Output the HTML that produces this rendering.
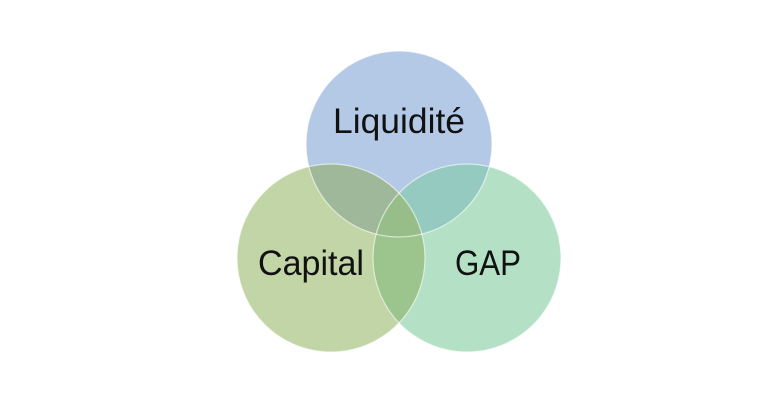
<!DOCTYPE html>
<html><head><style>body{margin:0;background:#fff}svg{display:block}</style></head><body>
<svg width="772" height="400" viewBox="0 0 772 400" xmlns="http://www.w3.org/2000/svg">
<defs>
<clipPath id="T"><circle cx="399" cy="144" r="93"/></clipPath>
<clipPath id="L"><circle cx="331" cy="258" r="94"/></clipPath>
<clipPath id="R"><circle cx="467" cy="258" r="94"/></clipPath>
</defs>
<rect width="772" height="400" fill="#fff"/>
<circle cx="399" cy="144" r="93" fill="#b4c9e6"/>
<circle cx="331" cy="258" r="94" fill="#c1d5a6"/>
<circle cx="467" cy="258" r="94" fill="#b4e1c6"/>
<g clip-path="url(#T)"><circle cx="331" cy="258" r="94" fill="#a0b89a"/><circle cx="467" cy="258" r="94" fill="#95cac0"/></g>
<g clip-path="url(#L)"><circle cx="467" cy="258" r="94" fill="#9cc48d"/></g>
<g clip-path="url(#T)"><g clip-path="url(#L)"><circle cx="467" cy="258" r="94" fill="#97be88"/></g></g>
<circle cx="399" cy="144" r="93" fill="none" stroke="#fff" stroke-opacity="0.6" stroke-width="1.2"/>
<circle cx="331" cy="258" r="94" fill="none" stroke="#fff" stroke-opacity="0.6" stroke-width="1.2"/>
<circle cx="467" cy="258" r="94" fill="none" stroke="#fff" stroke-opacity="0.6" stroke-width="1.2"/>
<g font-family="Liberation Sans, sans-serif" font-size="35" fill="#111" text-anchor="middle">
<text x="399" y="133" textLength="132" lengthAdjust="spacingAndGlyphs">Liquidité</text>
<text x="311" y="275" textLength="106" lengthAdjust="spacingAndGlyphs">Capital</text>
<text x="488" y="275" textLength="66" lengthAdjust="spacingAndGlyphs">GAP</text>
</g>
</svg>
</body></html>
